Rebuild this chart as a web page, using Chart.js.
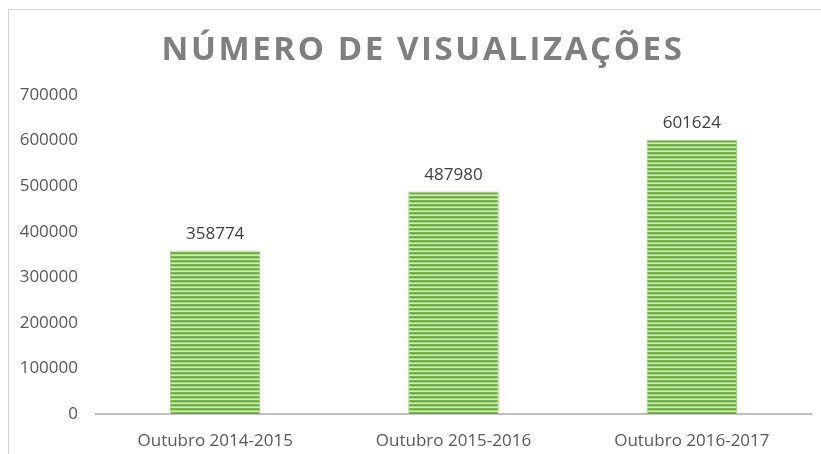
<!DOCTYPE html>
<html>
<head>
<meta charset="utf-8">
<script src="https://cdn.jsdelivr.net/npm/chart.js@4/dist/chart.umd.min.js"></script>
<style>
    html, body { margin: 0; padding: 0; background: #fff; }
    #wrap { width: 821px; height: 454px; position: relative; }
</style>
</head>
<body>
<div id="wrap"><canvas id="viewsChart" width="821" height="454"></canvas></div>
<script>
// Chart data
const categories = ['Outubro 2014-2015', 'Outubro 2015-2016', 'Outubro 2016-2017'];
const views = [358774, 487980, 601624];
const yTicks = [0, 100000, 200000, 300000, 400000, 500000, 600000, 700000];
const chartTitle = 'NÚMERO DE VISUALIZAÇÕES';

// Striped green fill like the original
function stripePattern(ctx) {
    const c = document.createElement('canvas');
    c.width = 4;
    c.height = 4;
    const p = c.getContext('2d');
    const rows = ['#76b44d', '#6cab42', '#a9d38b', '#d2eac0'];
    rows.forEach((col, i) => {
        p.fillStyle = col;
        p.fillRect(0, i, 4, 1);
    });
    return ctx.createPattern(c, 'repeat');
}

// Frame, title and value labels
const decorations = {
    id: 'decorations',
    beforeDraw(chart) {
        const ctx = chart.ctx;
        ctx.save();
        ctx.strokeStyle = '#d9d9d9';
        ctx.lineWidth = 1;
        ctx.strokeRect(8.5, 9.5, 1000, 1000);
        ctx.restore();
    },
    afterDraw(chart) {
        const ctx = chart.ctx;
        ctx.save();
        ctx.fillStyle = '#7f7f7f';
        ctx.font = 'bold 33px "Open Sans"';
        ctx.letterSpacing = '2.6px';
        ctx.textAlign = 'center';
        ctx.textBaseline = 'middle';
        ctx.fillText(chartTitle, 423, 51);

        ctx.letterSpacing = '0px';
        ctx.fillStyle = '#404040';
        ctx.font = '17px "Open Sans"';
        ctx.textBaseline = 'bottom';
        chart.getDatasetMeta(0).data.forEach((bar, i) => {
            ctx.fillText(views[i], bar.x, bar.y - 8);
        });
        ctx.restore();
    }
};

const ctx = document.getElementById('viewsChart').getContext('2d');
new Chart(ctx, {
    type: 'bar',
    data: {
        labels: categories,
        datasets: [{
            data: views,
            backgroundColor: stripePattern(ctx),
            borderColor: '#a3d083',
            borderWidth: 1,
            categoryPercentage: 1,
            barPercentage: 0.38
        }]
    },
    options: {
        responsive: false,
        animation: false,
        layout: { padding: { top: 95, right: 10, bottom: 0, left: 0 } },
        plugins: {
            legend: { display: false },
            tooltip: { enabled: false }
        },
        scales: {
            x: {
                afterFit(scale) { scale.height = 40; },
                grid: { display: false, drawTicks: false },
                border: { display: true, color: '#bfbfbf', width: 2 },
                ticks: { color: '#595959', font: { family: 'Open Sans', size: 17 }, padding: 17 }
            },
            y: {
                min: 0,
                max: 700000,
                afterFit(scale) { scale.width = 96; },
                afterBuildTicks(scale) { scale.ticks = yTicks.map(v => ({ value: v })); },
                grid: { display: false, drawTicks: false },
                border: { display: false },
                ticks: {
                    color: '#595959',
                    font: { family: 'Open Sans', size: 17 },
                    padding: 18,
                    callback: value => String(value)
                }
            }
        }
    },
    plugins: [decorations]
});
</script>
</body>
</html>
